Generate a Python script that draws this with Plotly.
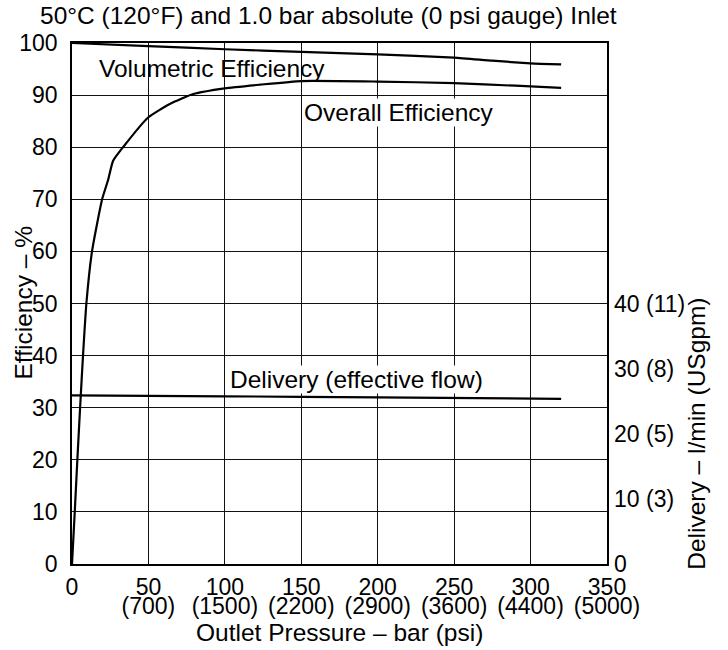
import plotly.graph_objects as go

# Outlet pressure (bar) and efficiency readings (%)
vol_bar = [0, 50, 100, 150, 200, 250, 275, 300, 320]
vol_eff = [100, 99.4, 98.8, 98.3, 97.8, 97.2, 96.6, 96.1, 95.9]

ovr_bar = [0, 1.8, 3.5, 5.3, 7.2, 9.4, 13.1, 19.7, 23.6, 26.9, 33.4, 49.8, 64, 79.3, 100, 123, 150, 200, 250, 290, 320]
ovr_eff = [0, 10, 20, 30, 40, 50, 60, 70, 73.7, 77.4, 80, 85.7, 88.3, 90.2, 91.3, 92.0, 92.7, 92.6, 92.3, 91.8, 91.4]

# Delivery (l/min)
del_bar = [0, 100, 200, 320]
del_flow = [25.9, 25.75, 25.6, 25.35]

# tick labels
bar_ticks = [0, 50, 100, 150, 200, 250, 300, 350]
psi_text = ["", "(700)", "(1500)", "(2200)", "(2900)", "(3600)", "(4400)", "(5000)"]
eff_ticks = [0, 10, 20, 30, 40, 50, 60, 70, 80, 90, 100]
flow_ticks = [0, 10, 20, 30, 40]
flow_text = ["0", "10 (3)", "20 (5)", "30 (8)", "40 (11)"]

FONT = "Liberation Sans, Arial, sans-serif"
TICK = 23
TXT = 24.5
line = dict(color="black", width=2.2, shape="spline", smoothing=0.5)

fig = go.Figure()
# volumetric curve sits on the psi axis (same range) so that axis gets drawn
fig.add_trace(go.Scatter(x=vol_bar, y=vol_eff, mode="lines", line=line, xaxis="x2", yaxis="y"))
fig.add_trace(go.Scatter(x=ovr_bar, y=ovr_eff, mode="lines", line=line, xaxis="x", yaxis="y"))
fig.add_trace(go.Scatter(x=del_bar, y=del_flow, mode="lines", line=line, xaxis="x", yaxis="y2"))

fig.update_layout(
    width=728, height=650,
    margin=dict(l=72, r=121, t=43, b=86),
    paper_bgcolor="white", plot_bgcolor="white",
    showlegend=False,
    font=dict(family=FONT, size=TICK, color="black"),
    title=dict(text="50°C (120°F) and 1.0 bar absolute (0 psi gauge) Inlet",
               x=40 / 728, xanchor="left", xref="container",
               y=1 - 15 / 650, yanchor="middle", yref="container",
               font=dict(size=TXT, color="black")),
    xaxis=dict(range=[0, 350], tickvals=bar_ticks, ticks="", ticklabelstandoff=2,
               showgrid=True, gridcolor="#111", gridwidth=1,
               showline=True, linecolor="black", linewidth=1.5, mirror=True,
               zeroline=False, tickfont=dict(size=TICK)),
    xaxis2=dict(range=[0, 350], tickvals=bar_ticks, ticktext=psi_text, ticks="",
                overlaying="x", side="bottom", anchor="y", ticklabelstandoff=26,
                showgrid=False, showline=False, zeroline=False, tickfont=dict(size=TICK)),
    yaxis=dict(range=[0, 100], tickvals=eff_ticks, ticks="", ticklabelstandoff=8,
               showgrid=True, gridcolor="#111", gridwidth=1,
               showline=True, linecolor="black", linewidth=1.5, mirror=True,
               zeroline=False, tickfont=dict(size=TICK)),
    # delivery scale: 40 l/min sits at the 50 % line
    yaxis2=dict(range=[0, 80], tickvals=flow_ticks, ticktext=flow_text,
                overlaying="y", anchor="x", side="right", ticks="", ticklabelstandoff=6,
                showgrid=False, showline=False, zeroline=False, tickfont=dict(size=TICK)),
)

# curve labels (white boxes hide the grid behind them; the volumetric one
# stays clear so it does not cut the overall curve just below it)
labels = [
    ("Volumetric Efficiency", 91.6, 95.1, "rgba(0,0,0,0)"),
    ("Overall Efficiency", 214, 86.6, "white"),
    ("Delivery (effective flow)", 186, 35.4, "white"),
]
for text, x, y, bg in labels:
    fig.add_annotation(text=text, x=x, y=y, xref="x", yref="y", showarrow=False,
                       xanchor="center", yanchor="middle",
                       bgcolor=bg, borderpad=0, font=dict(size=TXT))

# axis titles
fig.add_annotation(text="Efficiency – %", x=(23 - 72) / 535, y=0.5, xref="paper", yref="paper",
                   xanchor="center", yanchor="middle",
                   textangle=-90, showarrow=False, font=dict(size=TXT))
fig.add_annotation(text="Delivery – l/min (USgpm)", x=(697 - 72) / 535, y=0.25,
                   xref="paper", yref="paper", xanchor="center", yanchor="middle",
                   textangle=-90, showarrow=False, font=dict(size=TXT))
fig.add_annotation(text="Outlet Pressure – bar (psi)", x=0.5, y=(564 - 632) / 521,
                   xref="paper", yref="paper", xanchor="center", yanchor="middle",
                   showarrow=False, font=dict(size=TXT))

# drop the browser's default 8px body margin so the figure fills the window
fig.write_html("out.html", config={"displayModeBar": False},
               post_script="document.body.style.margin='0';")
